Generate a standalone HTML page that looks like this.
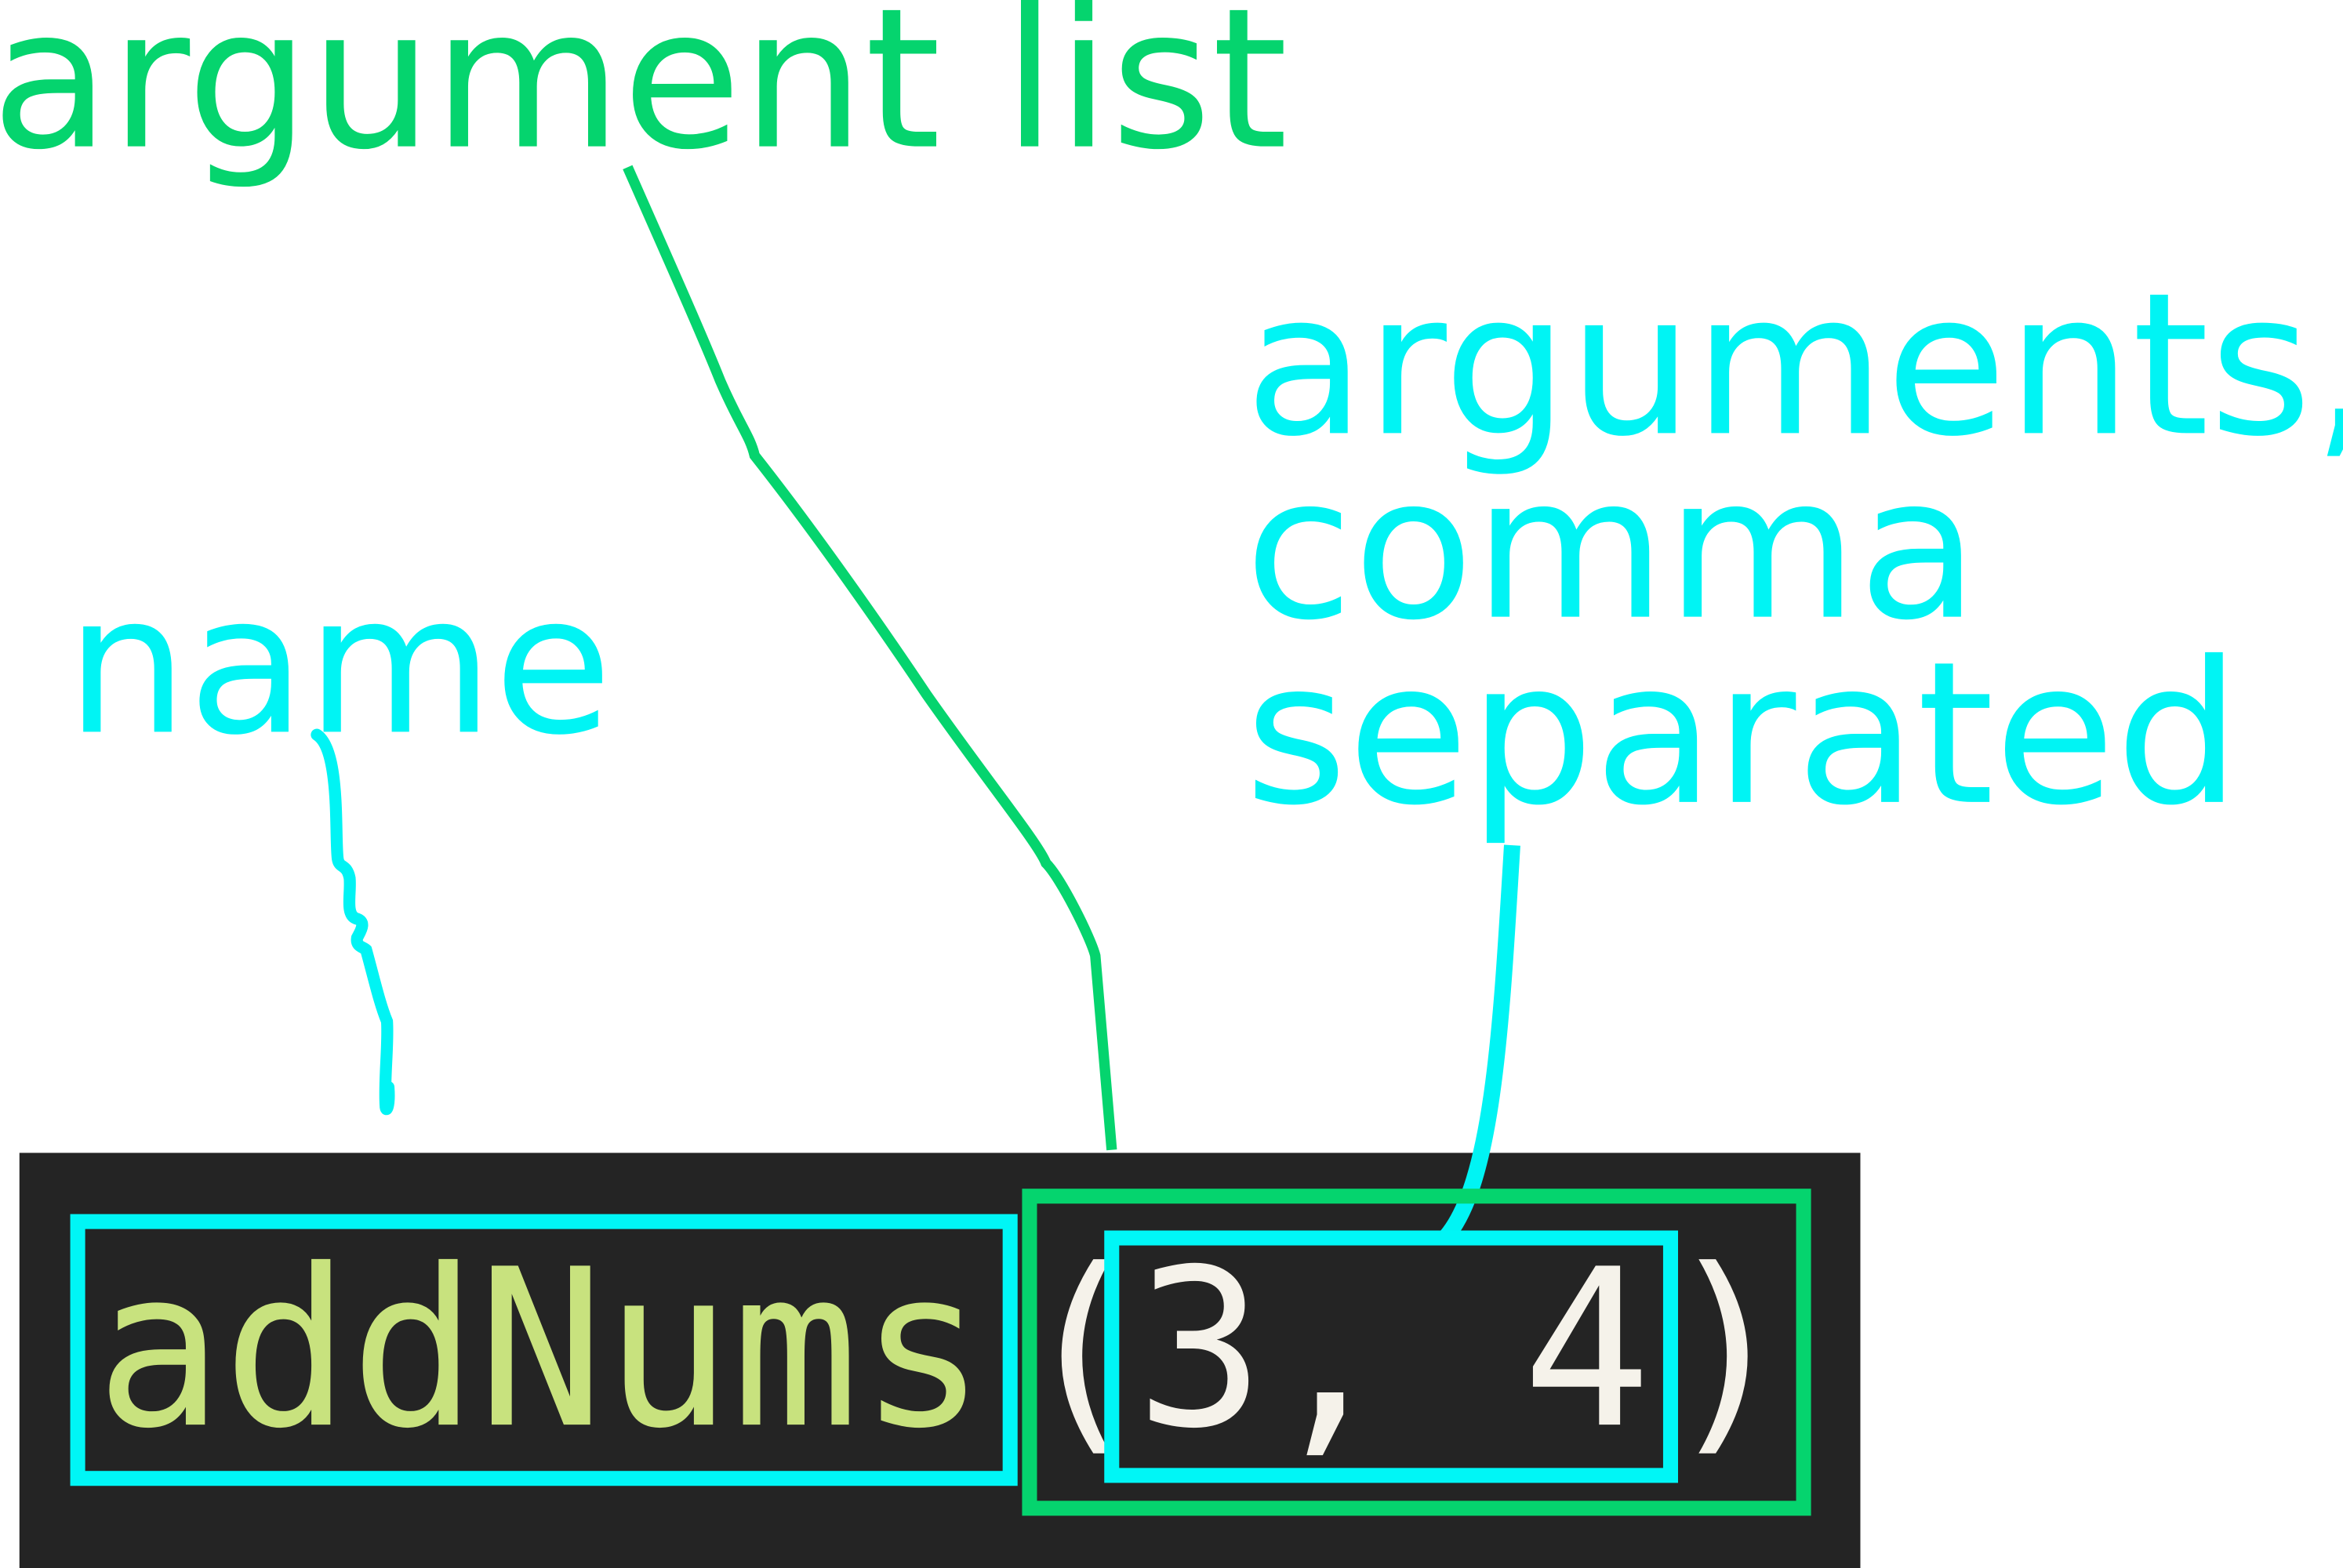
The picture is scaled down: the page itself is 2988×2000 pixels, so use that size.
<!DOCTYPE html>
<html><head><style>html,body{margin:0;padding:0;background:#fff;overflow:hidden}svg{display:block}</style></head>
<body>
<svg width="2988" height="2000" viewBox="0 0 1568 1050" preserveAspectRatio="none" xmlns="http://www.w3.org/2000/svg">
<rect x="0" y="0" width="1568" height="1050" fill="#fff"/>
<text x="-6" y="98" font-family="DejaVu Sans, Liberation Sans, sans-serif" font-size="130" fill="#05d46e">argument list</text>
<text x="44" y="490" font-family="DejaVu Sans, Liberation Sans, sans-serif" font-size="129" fill="#00f4f4">name</text>
<g font-family="DejaVu Sans, Liberation Sans, sans-serif" font-size="132" fill="#00f4f4">
<text x="833" y="290">arguments,</text>
<text x="833" y="413">comma</text>
<text x="833" y="537">separated</text>
</g>
<path d="M420,112 C450,180 470,225 482,255 C495,285 502,292 505,305 C550,362 600,435 620,465 C660,522 695,565 700,578 C710,588 730,628 733,640 L744,770" fill="none" stroke="#05d46e" stroke-width="7"/>
<path d="M212,492 C228,502 224,560 226,575 C227,582 232,578 234,588 C235,598 231,612 238,615 C246,617 241,624 239,628 C238,634 243,634 245,636 C250,654 254,672 259,684 C260,700 257,722 258,740 C258,746 261,742 260,728" fill="none" stroke="#00f4f4" stroke-width="8" stroke-linecap="round"/>
<rect x="13" y="772" width="1232" height="278" fill="#242424"/>
<path d="M1012,566 C1005,680 1000,790 968,828" fill="none" stroke="#00f4f4" stroke-width="11"/>
<g font-family="DejaVu Sans Mono, Liberation Mono, monospace" font-size="146">
<text x="64" y="954" fill="#c8e27e" textLength="596" lengthAdjust="spacingAndGlyphs">addNums</text>
<text x="680" y="954" fill="#f5f2ea">(</text>
<text x="760" y="954" fill="#f5f2ea" textLength="345" lengthAdjust="spacingAndGlyphs">3, 4</text>
<text x="1112" y="954" fill="#f5f2ea">)</text>
</g>
<rect x="52" y="818" width="624" height="172" fill="none" stroke="#00f6f6" stroke-width="10"/>
<rect x="689" y="801" width="518" height="209" fill="none" stroke="#05d46e" stroke-width="10"/>
<rect x="744" y="829" width="374" height="159" fill="none" stroke="#00f6f6" stroke-width="10"/>
</svg>
</body></html>
